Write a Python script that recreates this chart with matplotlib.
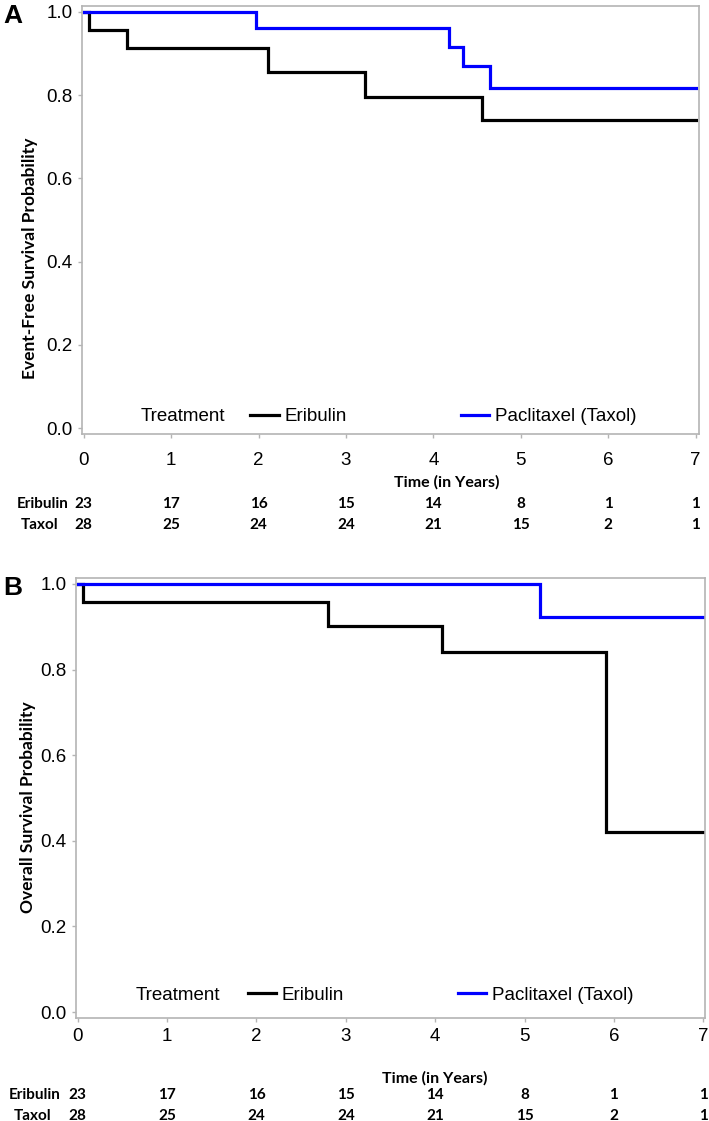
import matplotlib
matplotlib.use('Agg')
import matplotlib.pyplot as plt
import matplotlib.transforms as mtransforms

# Panel A: event-free survival
efs_eri_t = [0.0, 0.06, 0.50, 2.11, 3.22, 4.56, 7.0]
efs_eri_s = [1.0, 0.957, 0.913, 0.855, 0.796, 0.740, 0.740]
efs_tax_t = [0.0, 1.97, 4.18, 4.34, 4.65, 7.0]
efs_tax_s = [1.0, 0.962, 0.916, 0.871, 0.817, 0.817]

# Panel B: overall survival
os_eri_t = [0.0, 0.06, 2.80, 4.08, 5.91, 7.0]
os_eri_s = [1.0, 0.958, 0.901, 0.842, 0.421, 0.421]
os_tax_t = [0.0, 5.17, 7.0]
os_tax_s = [1.0, 0.922, 0.922]

# number at risk
risk_times = [0, 1, 2, 3, 4, 5, 6, 7]
eri_risk = [23, 17, 16, 15, 14, 8, 1, 1]
tax_risk = [28, 25, 24, 24, 21, 15, 2, 1]

xticks = [0, 1, 2, 3, 4, 5, 6, 7]
yticks = [0.0, 0.2, 0.4, 0.6, 0.8, 1.0]

sans = ['Liberation Sans', 'DejaVu Sans']
bold = ['Lato', 'DejaVu Sans']
W, H = 709, 1121

fig = plt.figure(figsize=(W / 100, H / 100), dpi=100)


def px_axes(left, right, top, bottom):
    return fig.add_axes([left / W, 1 - bottom / H, (right - left) / W, (bottom - top) / H])


def panel(ax, eri_t, eri_s, tax_t, tax_s, ylabel, ylab_pos, xpad, leg_y,
          time_pos, row_y, xlim):
    ax.step(eri_t, eri_s, where='post', color='black', lw=2.3, solid_joinstyle='miter')
    ax.step(tax_t, tax_s, where='post', color='#0000ff', lw=2.3, solid_joinstyle='miter')
    ax.set_xlim(*xlim)
    ax.set_ylim(-0.014, 1.014)
    ax.set_xticks(xticks)
    ax.set_yticks(yticks)
    ax.set_yticklabels(['{:.1f}'.format(v) for v in yticks])
    for s in ax.spines.values():
        s.set_color('#b4b4b4')
        s.set_linewidth(1.2)
    ax.tick_params(axis='both', color='#b4b4b4', length=3, width=1, labelsize=13.5)
    ax.tick_params(axis='x', pad=xpad)
    ax.tick_params(axis='y', pad=4)
    for lab in ax.get_xticklabels() + ax.get_yticklabels():
        lab.set_family(sans)
    ax.set_ylabel(ylabel, family=bold, fontweight='bold', fontsize=12.5)
    ax.yaxis.set_label_coords(*ylab_pos)

    # legend row
    ax.text(0.095, leg_y, 'Treatment', transform=ax.transAxes, ha='left', va='center',
            family=sans, fontsize=13.5)
    leg = ax.legend(['Eribulin', 'Paclitaxel (Taxol)'], ncol=2, loc='center left',
                    bbox_to_anchor=(0.273, leg_y), frameon=False, borderpad=0,
                    borderaxespad=0, handlelength=1.5, handletextpad=0.3,
                    columnspacing=6.1, prop={'family': sans, 'size': 13.5})
    for line in leg.get_lines():
        line.set_linewidth(2.3)

    trans = mtransforms.blended_transform_factory(ax.transData, ax.transAxes)
    ax.text(time_pos[0], time_pos[1], 'Time (in Years)', transform=trans,
            ha='center', va='center', family=bold, fontweight='bold', fontsize=11.5)
    ax.text(-0.77, row_y[0], 'Eribulin', transform=trans, ha='left', va='center',
            family=bold, fontweight='bold', fontsize=11)
    ax.text(-0.72, row_y[1], 'Taxol', transform=trans, ha='left', va='center',
            family=bold, fontweight='bold', fontsize=11)
    for t, e, k in zip(risk_times, eri_risk, tax_risk):
        ax.text(t, row_y[0], str(e), transform=trans, ha='center', va='center',
                family=bold, fontweight='bold', fontsize=11)
        ax.text(t, row_y[1], str(k), transform=trans, ha='center', va='center',
                family=bold, fontweight='bold', fontsize=11)


ax_a = px_axes(82, 699, 6, 434)
panel(ax_a, efs_eri_t, efs_eri_s, efs_tax_t, efs_tax_s,
      'Event-Free Survival Probability', (-0.071, 0.41), 10, 0.04,
      (4.15, -0.112), (-0.164, -0.213), (-0.02, 7.04))

ax_b = px_axes(76, 705, 578, 1018)
panel(ax_b, os_eri_t, os_eri_s, os_tax_t, os_tax_s,
      'Overall Survival Probability', (-0.064, 0.48), 4, 0.052,
      (4.0, -0.136), (-0.175, -0.223), (-0.02, 7.02))

fig.text(3 / W, 1 - 16 / H, 'A', family=sans, fontweight='bold', fontsize=19,
         ha='left', va='center')
fig.text(3 / W, 1 - 588 / H, 'B', family=sans, fontweight='bold', fontsize=19,
         ha='left', va='center')

fig.savefig('out.png', dpi=100)
